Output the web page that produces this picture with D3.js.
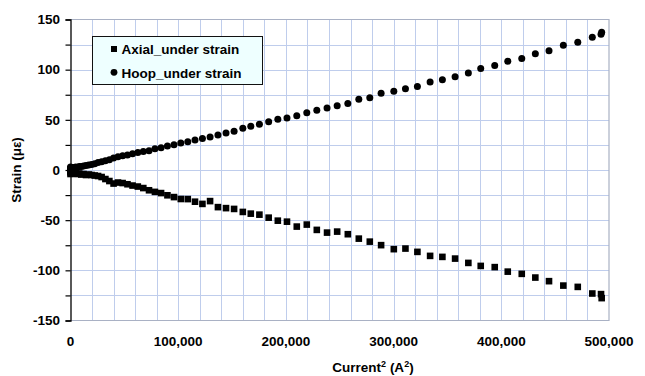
<!DOCTYPE html>
<html>
<head>
<meta charset="utf-8">
<script src="https://cdn.jsdelivr.net/npm/d3@7/dist/d3.min.js"></script>
<style>
  html, body { margin: 0; padding: 0; background: #fff; }
  text { font-family: "Liberation Sans", Arial, Helvetica, sans-serif; font-weight: bold; fill: #000; }
</style>
</head>
<body>
<svg id="chart" width="645" height="376"></svg>
<script>
// ---- data ----
const currentSq = [
  0, 0, 0, 100, 400, 900, 1600, 2500, 3600, 4900, 6400, 8100, 10000, 12100, 14400, 16900,
  19600, 22500, 25600, 28900, 32400, 36100, 40000, 44100, 48400, 52900, 57600, 62500, 67600,
  72900, 78400, 84100, 90000, 96100, 102400, 108900, 115600, 122500, 129600, 136900, 144400,
  151900, 160000, 167400, 175400, 184000, 192500, 201000, 210100, 219400, 228700, 238200,
  247600, 257500, 267700, 277900, 288400, 300200, 311000, 322100, 333900, 345300, 357100,
  369400, 380900, 393900, 406000, 419000, 431600, 444300, 457600, 471000, 484500, 492600, 493200
];
const axialStrain = [
  -1.5, -4.0, 0.5, -2.5, -1.0, -3.0, -2.0, -3.5, -2.5, -3.0, -4.0, -3.5, -4.5, -4.0, -5.0, -4.5,
  -5.0, -5.5, -6.0, -7.0, -9.0, -11.0, -13.5, -12.5, -13.0, -14.2, -15.5, -16.5, -18.0,
  -20.2, -21.8, -23.0, -25.2, -27.0, -28.9, -29.0, -31.6, -33.8, -31.0, -37.0, -38.0,
  -38.8, -41.8, -43.5, -44.5, -47.5, -50.5, -51.5, -56.4, -54.4, -59.7, -62.4,
  -61.4, -64.0, -68.4, -71.4, -74.9, -78.9, -78.3, -81.6, -85.6, -86.6, -88.3,
  -92.6, -95.6, -96.8, -101.3, -103.5, -107.2, -110.8, -115.2, -116.5, -123.1, -123.7, -127.7
];
const hoopStrain = [
  1.5, -1.0, 3.0, 0.5, 2.0, 1.0, 2.5, 1.5, 2.5, 3.0, 2.5, 3.5, 3.5, 4.0, 4.5, 5.0,
  5.5, 6.3, 7.4, 8.3, 9.3, 10.1, 12.0, 13.2, 14.2, 14.9, 16.1, 17.4, 18.4,
  19.1, 21.2, 22.3, 23.9, 25.2, 26.8, 28.1, 30.0, 31.4, 32.8, 34.9, 36.8,
  38.5, 41.5, 43.5, 45.5, 48.1, 50.5, 51.8, 54.0, 57.0, 59.5, 61.7,
  64.0, 66.4, 70.4, 72.0, 76.6, 78.6, 80.9, 83.2, 87.6, 89.9, 92.9,
  96.8, 101.2, 104.2, 108.5, 111.2, 115.8, 118.8, 124.4, 127.4, 132.4, 135.4, 137.2
];
const seriesNames = ["Axial_under strain", "Hoop_under strain"];
const xTickValues = [0, 100000, 200000, 300000, 400000, 500000];
const yTickValues = [-150, -100, -50, 0, 50, 100, 150];
const xAxisTitle = "Current";
const yAxisTitle = "Strain (\u03bc\u03b5)";

// ---- layout ----
const svg = d3.select("#chart");
const L = 70.5, R = 609, T = 19.5, B = 320.5;
const x = d3.scaleLinear().domain([0, 500000]).range([L, R]);
const y = d3.scaleLinear().domain([-150, 150]).range([B, T]);

const gridColor = "#bfcdec";
const borderColor = "#a9b1c4";

// grid
const g = svg.append("g");
g.selectAll("line.vg").data(d3.range(20000, 500000, 20000)).join("line")
  .attr("x1", d => Math.round(x(d)) + 0.5).attr("x2", d => Math.round(x(d)) + 0.5)
  .attr("y1", T).attr("y2", B).attr("stroke", gridColor).attr("stroke-width", 1);
g.selectAll("line.hg").data(d3.range(-125, 150, 25)).join("line")
  .attr("y1", d => Math.round(y(d)) + 0.5).attr("y2", d => Math.round(y(d)) + 0.5)
  .attr("x1", L).attr("x2", R).attr("stroke", gridColor).attr("stroke-width", 1);

// border (top, right, bottom)
svg.append("path")
  .attr("d", `M${L},${T}H${R}V${B}H${L}`)
  .attr("fill", "none").attr("stroke", borderColor).attr("stroke-width", 1.2);

// y axis
const yAxis = d3.axisLeft(y).tickValues(d3.range(-150, 175, 25)).tickSize(5).tickFormat("");
const ya = svg.append("g").attr("transform", `translate(${L},0)`).call(yAxis);
ya.select(".domain").attr("stroke", "#000").attr("stroke-width", 1.3);
ya.selectAll(".tick line").attr("stroke", "#000").attr("stroke-width", 1.2);

svg.append("g").selectAll("text").data(yTickValues).join("text")
  .attr("x", 60).attr("y", d => y(d) + 4.8)
  .attr("text-anchor", "end").style("font-size", "13.5px")
  .text(d => String(d));

// x tick labels
svg.append("g").selectAll("text").data(xTickValues).join("text")
  .attr("x", d => x(d)).attr("y", 346)
  .attr("text-anchor", "middle").style("font-size", "13.5px")
  .text(d => d3.format(",")(d));

// axis titles
const xt = svg.append("text").attr("x", 373).attr("y", 372).attr("text-anchor", "middle")
  .style("font-size", "13.5px");
xt.append("tspan").text(xAxisTitle);
xt.append("tspan").attr("dy", -5).style("font-size", "9px").text("2");
xt.append("tspan").attr("dy", 5).text(" (A");
xt.append("tspan").attr("dy", -5).style("font-size", "9px").text("2");
xt.append("tspan").attr("dy", 5).text(")");

svg.append("text").attr("transform", "translate(21,170) rotate(-90)")
  .attr("text-anchor", "middle").style("font-size", "13.5px").text(yAxisTitle);

// data
const axialData = currentSq.map((c, i) => ({ x: c, y: axialStrain[i] }));
const hoopData = currentSq.map((c, i) => ({ x: c, y: hoopStrain[i] }));
const sq = 6.6;
svg.append("g").selectAll("rect").data(axialData).join("rect")
  .attr("x", d => x(d.x) - sq / 2).attr("y", d => y(d.y) - sq / 2)
  .attr("width", sq).attr("height", sq).attr("fill", "#000");
svg.append("g").selectAll("circle").data(hoopData).join("circle")
  .attr("cx", d => x(d.x)).attr("cy", d => y(d.y)).attr("r", 3.5).attr("fill", "#000");

// legend
const lg = svg.append("g");
lg.append("rect").attr("x", 92.5).attr("y", 36.5).attr("width", 170).attr("height", 48)
  .attr("fill", "#eeffff").attr("stroke", "#111").attr("stroke-width", 1);
lg.append("rect").attr("x", 111).attr("y", 46).attr("width", 6).attr("height", 6).attr("fill", "#000");
lg.append("circle").attr("cx", 114).attr("cy", 72.3).attr("r", 3.4).attr("fill", "#000");
lg.append("text").attr("x", 121.5).attr("y", 54).style("font-size", "13.5px").text(seriesNames[0]);
lg.append("text").attr("x", 121.5).attr("y", 77.5).style("font-size", "13.5px").text(seriesNames[1]);
</script>
</body>
</html>
